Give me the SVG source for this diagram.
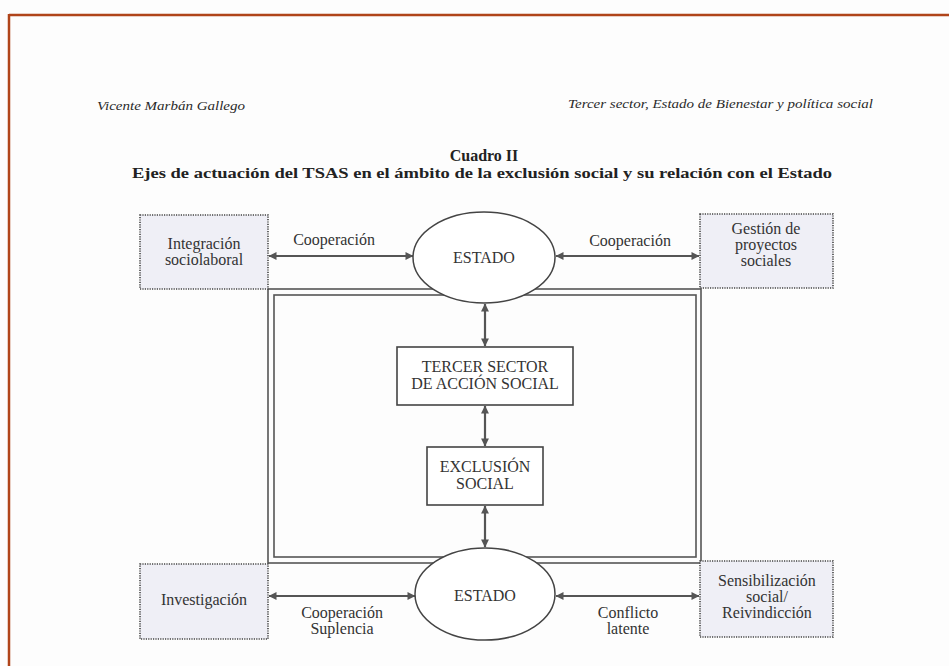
<svg xmlns="http://www.w3.org/2000/svg" width="949" height="666" viewBox="0 0 949 666">
<defs>
<style>
.hdr{font-family:"Liberation Serif",serif;font-style:italic;font-size:13.5px;fill:#2a2a2a}
.ttl{font-family:"Liberation Serif",serif;font-weight:bold;font-size:14.5px;fill:#222;text-anchor:middle}
.t{font-family:"Liberation Serif",serif;font-size:16px;fill:#333;text-anchor:middle}
.side{fill:#efeff6;stroke:#444;stroke-width:1.6;stroke-dasharray:1.2 1.2}
.box{fill:#fff;stroke:#444;stroke-width:1.6}
.ell{fill:#fff;stroke:#444;stroke-width:1.5}
.frame{fill:none;stroke:#555;stroke-width:1.6}
.conn{stroke:#555;stroke-width:2.2;fill:none;marker-start:url(#ah);marker-end:url(#ah)}
</style>
<marker id="ah" viewBox="0 0 10 10" refX="9.5" refY="5" markerWidth="4.2" markerHeight="3.6" orient="auto-start-reverse" markerUnits="strokeWidth">
<path d="M0,0 L10,5 L0,10 z" fill="#555"/>
</marker>
</defs>
<rect x="0" y="0" width="949" height="666" fill="#fdfdfd"/>
<g id="page-border">
<line x1="9" y1="15" x2="949" y2="15" stroke="#b0441a" stroke-width="2.5"/>
<line x1="9" y1="14" x2="9" y2="666" stroke="#b0441a" stroke-width="2.5"/>
</g>
<g id="header">
<text class="hdr" x="97" y="110" textLength="148" lengthAdjust="spacingAndGlyphs">Vicente Marbán Gallego</text>
<text class="hdr" x="568" y="108" textLength="305" lengthAdjust="spacingAndGlyphs">Tercer sector, Estado de Bienestar y política social</text>
</g>
<g id="title">
<text class="ttl" x="484" y="161" style="font-size:16px">Cuadro II</text>
<text class="ttl" x="482" y="178" textLength="700" lengthAdjust="spacingAndGlyphs">Ejes de actuación del TSAS en el ámbito de la exclusión social y su relación con el Estado</text>
</g>
<g id="frame">
<rect class="frame" x="268" y="289" width="433" height="274"/>
<rect class="frame" x="274" y="295" width="422" height="262"/>
</g>
<g id="connectors">
<line class="conn" x1="269" y1="256" x2="413" y2="256"/>
<line class="conn" x1="556" y1="256" x2="699" y2="256"/>
<line class="conn" x1="269" y1="596" x2="415" y2="596"/>
<line class="conn" x1="556" y1="596" x2="699" y2="596"/>
<line class="conn" x1="485" y1="304" x2="485" y2="346"/>
<line class="conn" x1="485" y1="406" x2="485" y2="446"/>
<line class="conn" x1="485" y1="506" x2="485" y2="547"/>
<text class="t" x="334" y="245">Cooperación</text>
<text class="t" x="630" y="246">Cooperación</text>
<text class="t" x="342" y="618">Cooperación</text>
<text class="t" x="342" y="634">Suplencia</text>
<text class="t" x="628" y="618">Conflicto</text>
<text class="t" x="628" y="634">latente</text>
</g>
<g id="estado-top">
<ellipse class="ell" cx="484" cy="257.5" rx="71" ry="45.5"/>
<text class="t" x="484" y="263">ESTADO</text>
</g>
<g id="integracion">
<rect class="side" x="140" y="215" width="128" height="74"/>
<text class="t" x="204" y="249">Integración</text>
<text class="t" x="204" y="265">sociolaboral</text>
</g>
<g id="gestion">
<rect class="side" x="700" y="214" width="133" height="74"/>
<text class="t" x="766" y="234">Gestión de</text>
<text class="t" x="766" y="250">proyectos</text>
<text class="t" x="766" y="266">sociales</text>
</g>
<g id="tercer-sector">
<rect class="box" x="397" y="347" width="176" height="58"/>
<text class="t" x="485" y="372">TERCER SECTOR</text>
<text class="t" x="485" y="389">DE ACCIÓN SOCIAL</text>
</g>
<g id="exclusion">
<rect class="box" x="427" y="447" width="116" height="58"/>
<text class="t" x="485" y="472">EXCLUSIÓN</text>
<text class="t" x="485" y="489">SOCIAL</text>
</g>
<g id="estado-bottom">
<ellipse class="ell" cx="485" cy="594" rx="70" ry="46"/>
<text class="t" x="485" y="601">ESTADO</text>
</g>
<g id="investigacion">
<rect class="side" x="140" y="564" width="128" height="75"/>
<text class="t" x="204" y="605">Investigación</text>
</g>
<g id="sensibilizacion">
<rect class="side" x="700" y="561" width="133" height="76"/>
<text class="t" x="767" y="586">Sensibilización</text>
<text class="t" x="767" y="602">social/</text>
<text class="t" x="767" y="618">Reivindicción</text>
</g>
</svg>
